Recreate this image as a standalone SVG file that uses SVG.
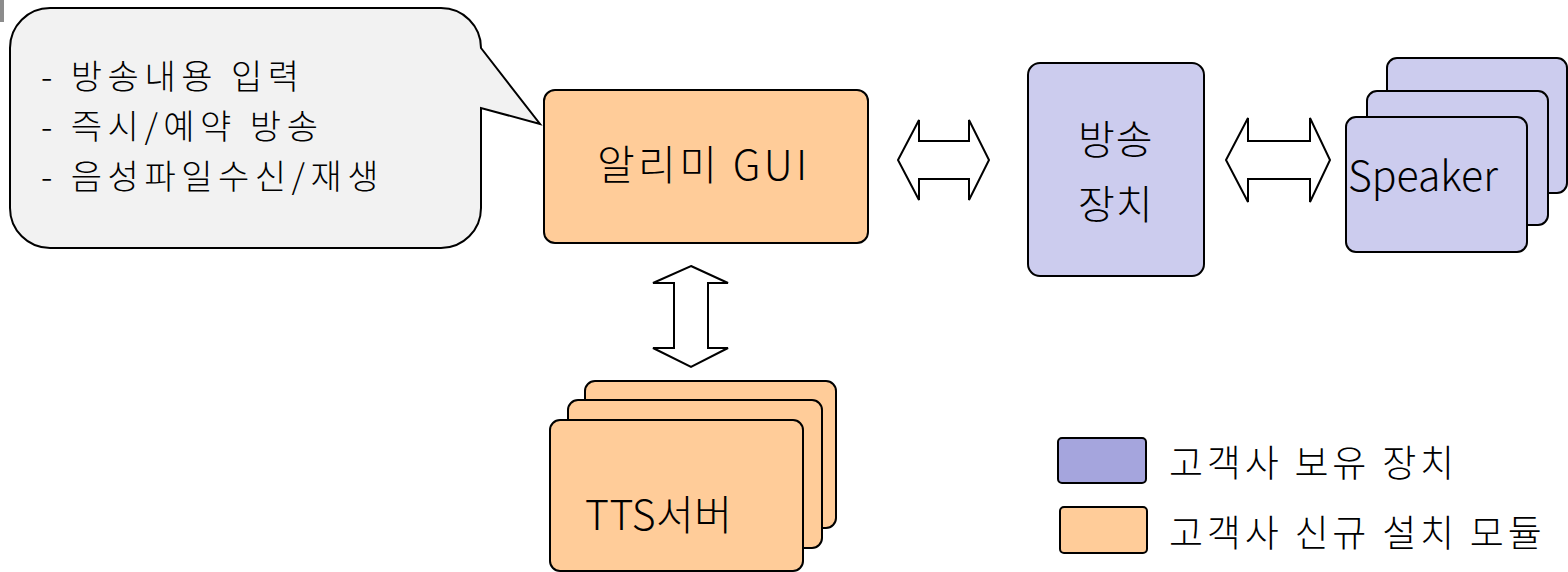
<svg xmlns="http://www.w3.org/2000/svg" width="1568" height="572" viewBox="0 0 1568 572">
<style>
text { font-family: "Noto Sans CJK KR", "Noto Sans", sans-serif; fill: #000; font-weight: 300; }
.org { fill: #FFCC99; stroke: #000; stroke-width: 2; }
.pur { fill: #CCCCEE; stroke: #000; stroke-width: 2; }
.leg { fill: #A5A5DD; stroke: #000; stroke-width: 2; }
.arr { fill: #fff; stroke: #000; stroke-width: 2; stroke-linejoin: miter; }
.bub { fill: #F2F2F2; stroke: #000; stroke-width: 2; }
.bt { font-size: 34px; letter-spacing: 5.5px; }
.lt { font-size: 37px; letter-spacing: 3.8px; }
</style>
<rect width="1568" height="572" fill="#fff"/>
<rect x="0" y="0" width="4" height="22" fill="#8C8C8C"/>

<g id="callout">
  <path class="bub" d="M50,8 H441 A40,40 0 0 1 481,48 L540,124 L481,108 V208 A40,40 0 0 1 441,248 H50 A40,40 0 0 1 10,208 V48 A40,40 0 0 1 50,8 Z"/>
  <text class="bt" x="41" y="89">- 방송내용 입력</text>
  <text class="bt" x="41" y="139">- 즉시/예약 방송</text>
  <text class="bt" x="41" y="189">- 음성파일수신/재생</text>
</g>

<g id="gui">
  <rect class="org" x="544" y="90" width="324" height="153" rx="11"/>
  <text x="597" y="180" font-size="41" letter-spacing="3.4">알리미 GUI</text>
</g>

<g id="broadcast">
  <rect class="pur" x="1028" y="63" width="176" height="213" rx="12"/>
  <text x="1078" y="154" font-size="40" letter-spacing="1">방송</text>
  <text x="1078" y="219" font-size="40" letter-spacing="1">장치</text>
</g>

<g id="speaker">
  <rect class="pur" x="1387" y="58" width="180" height="135" rx="10"/>
  <rect class="pur" x="1367" y="91" width="181" height="134" rx="10"/>
  <rect class="pur" x="1346" y="117" width="181" height="135" rx="10"/>
  <text x="1348" y="191" font-size="41">Speaker</text>
</g>

<g id="tts">
  <rect class="org" x="585" y="381" width="251" height="147" rx="10"/>
  <rect class="org" x="568" y="400" width="254" height="148" rx="10"/>
  <rect class="org" x="550" y="420" width="253" height="151" rx="10"/>
  <text x="585" y="530" font-size="41" letter-spacing="0.5">TTS서버</text>
</g>

<g id="connectors">
  <path class="arr" d="M898,160 L919,120 V141 H969 V120 L989,160 L969,200 V179 H919 V200 Z"/>
  <path class="arr" d="M1226,160 L1248,118 V141 H1310 V118 L1330,160 L1310,202 V179 H1248 V202 Z"/>
  <path class="arr" d="M691,266 L728,283 H708 V348 H728 L691,367 L653,348 H674 V283 H653 Z"/>
</g>

<g id="legend">
  <rect class="leg" x="1058" y="438" width="88" height="45" rx="4"/>
  <text class="lt" x="1169" y="477">고객사 보유 장치</text>
  <rect class="org" x="1060" y="507" width="87" height="46" rx="4"/>
  <text class="lt" x="1169" y="547">고객사 신규 설치 모듈</text>
</g>
</svg>
